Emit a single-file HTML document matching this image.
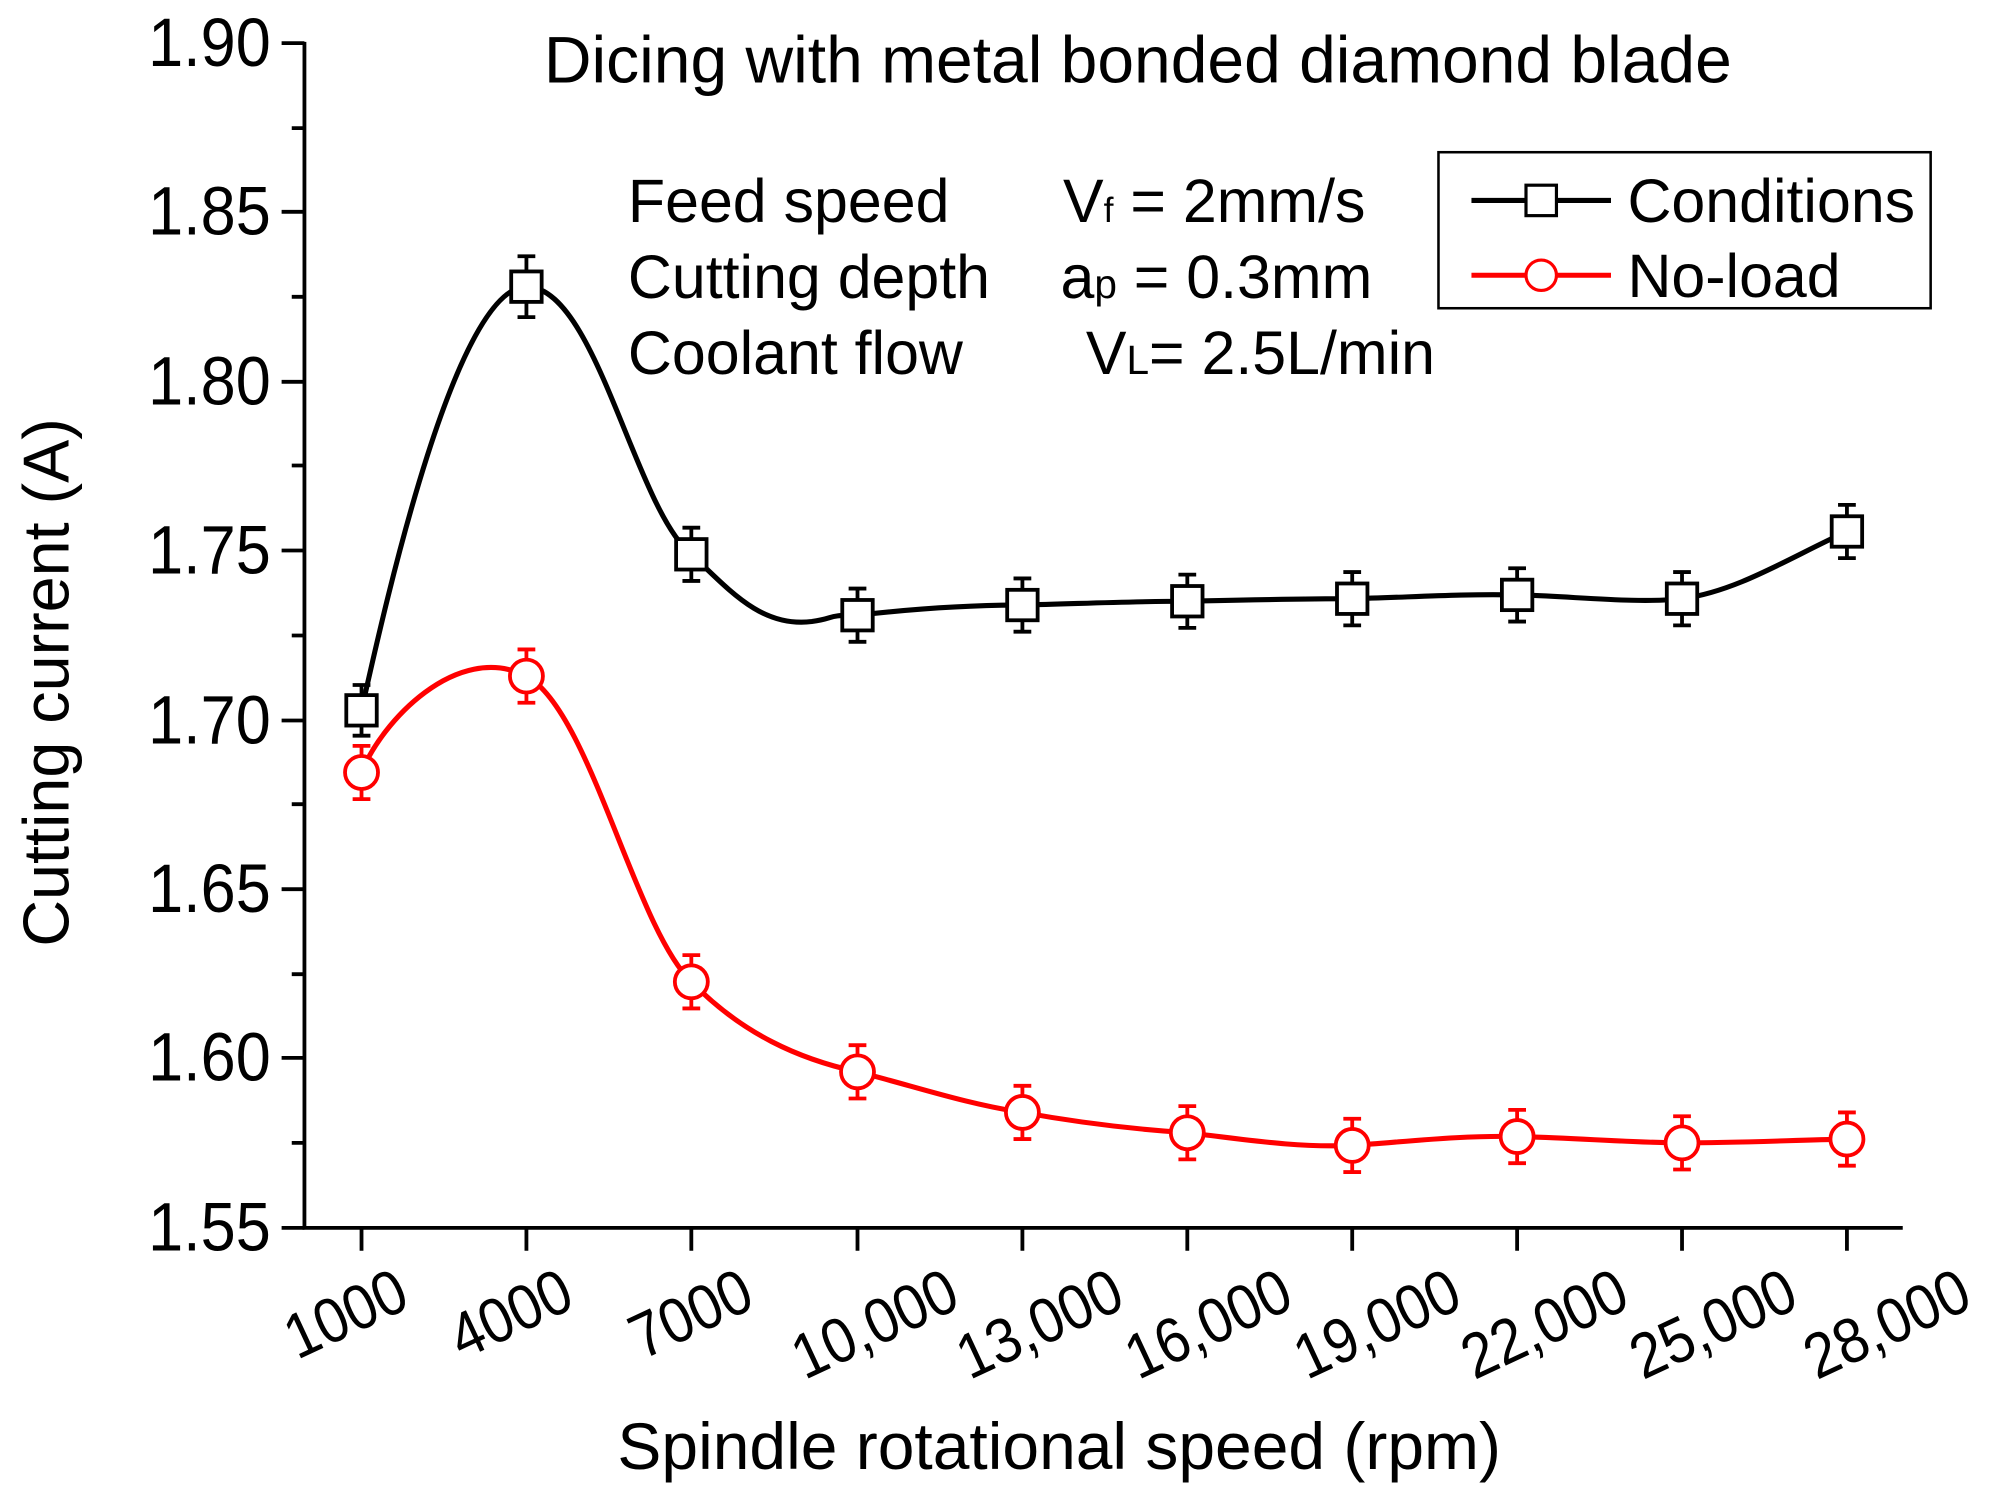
<!DOCTYPE html>
<html><head><style>body{margin:0;background:#fff}svg{display:block}</style></head><body>
<svg width="1989" height="1495" viewBox="0 0 1568 1178.6" preserveAspectRatio="none" xmlns="http://www.w3.org/2000/svg" font-family="Liberation Sans, Arial, sans-serif">
<rect width="1568" height="1179" fill="#fff"/>
<g stroke="#000" stroke-width="3" fill="none">
<path d="M240,33 V968 H1500"/>
<path d="M222,34H240M222,167H240M222,301H240M222,434H240M222,568H240M222,701H240M222,834H240M222,968H240"/>
<path d="M230,101H240M230,234H240M230,367H240M230,501H240M230,634H240M230,768H240M230,901H240"/>
<path d="M285,968V986M415,968V986M545,968V986M676,968V986M806,968V986M936,968V986M1066,968V986M1196,968V986M1326,968V986M1456,968V986"/>
</g>
<g font-size="54" text-anchor="end" transform="scale(0.92,1)">
<text x="232" y="52">1.90</text><text x="232" y="185">1.85</text><text x="232" y="319">1.80</text><text x="232" y="452">1.75</text><text x="232" y="586">1.70</text><text x="232" y="719">1.65</text><text x="232" y="852">1.60</text><text x="232" y="986">1.55</text>
</g>
<g font-size="50" text-anchor="end">
<text transform="translate(325,1030) rotate(-25) scale(0.9,1)">1000</text>
<text transform="translate(455,1030) rotate(-25) scale(0.9,1)">4000</text>
<text transform="translate(597,1030) rotate(-25) scale(0.9,1)">7000</text>
<text transform="translate(759,1030) rotate(-25) scale(0.9,1)">10,000</text>
<text transform="translate(889,1030) rotate(-25) scale(0.9,1)">13,000</text>
<text transform="translate(1022,1030) rotate(-25) scale(0.9,1)">16,000</text>
<text transform="translate(1155,1030) rotate(-25) scale(0.9,1)">19,000</text>
<text transform="translate(1287,1030) rotate(-25) scale(0.9,1)">22,000</text>
<text transform="translate(1420,1030) rotate(-25) scale(0.9,1)">25,000</text>
<text transform="translate(1557,1030) rotate(-25) scale(0.9,1)">28,000</text>
</g>
<text x="835" y="1158" font-size="52" text-anchor="middle">Spindle rotational speed (rpm)</text>
<text transform="translate(54,538) rotate(-90)" font-size="51" text-anchor="middle">Cutting current (A)</text>
<text x="897" y="65" font-size="52" text-anchor="middle">Dicing with metal bonded diamond blade</text>
<g font-size="48">
<text x="495" y="175">Feed speed</text><text x="495" y="235">Cutting depth</text><text x="495" y="295">Coolant flow</text>
<text x="838" y="175">V<tspan font-size="28">f</tspan>  = 2mm/s</text>
<text x="836" y="235">a<tspan font-size="32">p</tspan> = 0.3mm</text>
<text x="856" y="295">V<tspan font-size="32">L</tspan>= 2.5L/min</text>
</g>
<rect x="1134" y="120" width="388" height="123" fill="none" stroke="#000" stroke-width="2"/>
<path d="M1160,158H1270" stroke="#000" stroke-width="4"/>
<rect x="1203" y="146" width="24" height="24" fill="#fff" stroke="#000" stroke-width="2.5"/>
<path d="M1160,217H1270" stroke="#f00" stroke-width="4"/>
<circle cx="1215" cy="217" r="12" fill="#fff" stroke="#f00" stroke-width="2.5"/>
<text x="1283" y="175" font-size="48">Conditions</text>
<text x="1283" y="234" font-size="48">No-load</text>
<path d="M285,560 C305,470 360,226 415,226 C470,226 500,400 545,437 C575,465 600,495 640,490 C660,487 650,485 676,485 C720,480 760,477 806,477 C850,476 890,474 936,474 C980,473 1020,472 1066,472 C1110,471 1150,468 1196,469 C1240,470 1290,476 1326,472 C1370,466 1410,440 1456,419" fill="none" stroke="#000" stroke-width="4"/>
<path d="M285,609 C300,570 360,505 415,533 C465,560 500,730 545,774 C585,815 630,835 676,845 C720,856 760,870 806,877 C850,885 890,890 936,893 C980,898 1020,905 1066,903 C1110,900 1150,895 1196,896 C1240,897 1290,901 1326,901 C1370,901 1410,899 1456,898" fill="none" stroke="#f00" stroke-width="4"/>
<g stroke="#000" stroke-width="3" fill="#fff">
<path d="M285,540V580M278,540H292M278,580H292M415,202V250M408,202H422M408,250H422M545,416V458M538,416H552M538,458H552M676,464V506M669,464H683M669,506H683M806,456V498M799,456H813M799,498H813M936,453V495M929,453H943M929,495H943M1066,451V493M1059,451H1073M1059,493H1073M1196,448V490M1189,448H1203M1189,490H1203M1326,451V493M1319,451H1333M1319,493H1333M1456,398V440M1449,398H1463M1449,440H1463"/>
<rect x="273" y="548" width="24" height="24"/><rect x="403" y="214" width="24" height="24"/><rect x="533" y="425" width="24" height="24"/><rect x="664" y="473" width="24" height="24"/><rect x="794" y="465" width="24" height="24"/><rect x="924" y="462" width="24" height="24"/><rect x="1054" y="460" width="24" height="24"/><rect x="1184" y="457" width="24" height="24"/><rect x="1314" y="460" width="24" height="24"/><rect x="1444" y="407" width="24" height="24"/>
</g>
<g stroke="#f00" stroke-width="3" fill="#fff">
<path d="M285,588V630M278,588H292M278,630H292M415,512V554M408,512H422M408,554H422M545,753V795M538,753H552M538,795H552M676,824V866M669,824H683M669,866H683M806,856V898M799,856H813M799,898H813M936,872V914M929,872H943M929,914H943M1066,882V924M1059,882H1073M1059,924H1073M1196,875V917M1189,875H1203M1189,917H1203M1326,880V922M1319,880H1333M1319,922H1333M1456,877V919M1449,877H1463M1449,919H1463"/>
<circle cx="285" cy="609" r="13"/><circle cx="415" cy="533" r="13"/><circle cx="545" cy="774" r="13"/><circle cx="676" cy="845" r="13"/><circle cx="806" cy="877" r="13"/><circle cx="936" cy="893" r="13"/><circle cx="1066" cy="903" r="13"/><circle cx="1196" cy="896" r="13"/><circle cx="1326" cy="901" r="13"/><circle cx="1456" cy="898" r="13"/>
</g>
</svg>
</body></html>
